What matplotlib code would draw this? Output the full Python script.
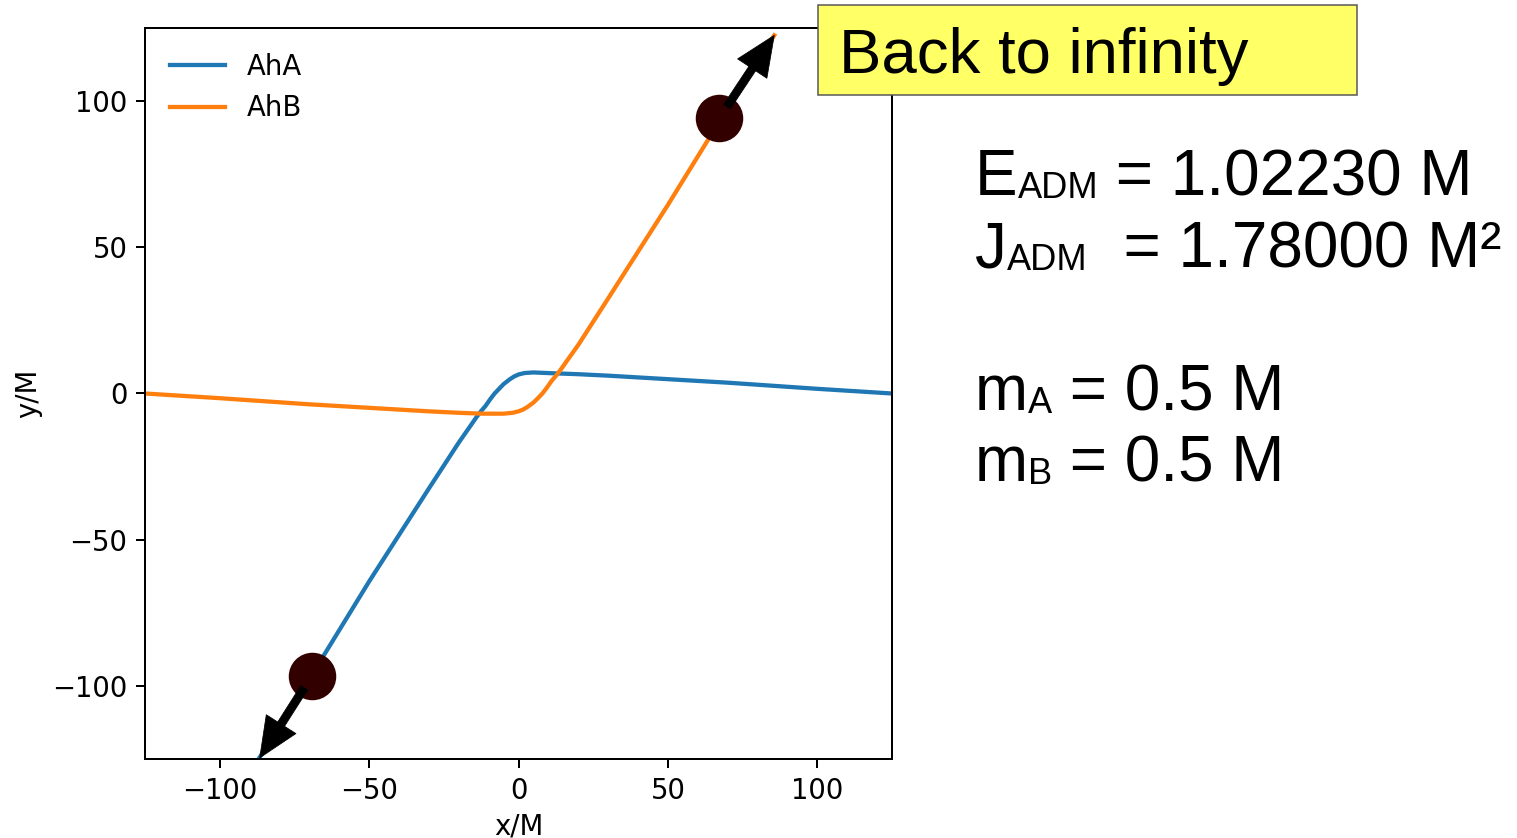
import matplotlib
matplotlib.use("Agg")
import matplotlib.pyplot as plt
from matplotlib.patches import Rectangle

W, H, DPI = 1517, 838, 180

plt.rcParams["font.size"] = 11
plt.rcParams["lines.linewidth"] = 1.7

# trajectories of the two horizons
aha_x = [125, 100, 70, 50, 30, 20, 12, 5, 2, 0, -1.5, -3, -5, -6.5, -8, -9.5,
         -11, -12.5, -14, -20, -30, -50, -69.2, -86.6]
aha_y = [0, 1.6, 3.7, 4.9, 6.1, 6.6, 6.9, 7.2, 7.0, 6.5, 5.8, 4.8, 3.2, 1.6, 0.0,
         -2.0, -4.2, -6.0, -8.0, -16.8, -32.5, -64.3, -96.3, -124.4]
ahb_x = [-125, -100, -70, -50, -30, -20, -12, -5, -2, 0, 1.5, 3, 5, 6.5, 8, 9.5,
         11, 12.5, 14, 20, 30, 50, 67.2, 85.6]
ahb_y = [0, -1.6, -3.7, -4.9, -6.1, -6.6, -6.9, -6.9, -6.6, -6.1, -5.5, -4.6, -3.1,
         -1.6, 0.0, 2.0, 4.2, 6.0, 8.0, 16.6, 32.5, 64.5, 93.0, 122.5]

# final positions of the holes and where they head off to
dot_x = [-69.2, 67.2]
dot_y = [-96.6, 94.1]
tip_x = [-86.6, 85.6]
tip_y = [-124.6, 122.5]

ticks = [-100, -50, 0, 50, 100]

fig = plt.figure(figsize=(W / DPI, H / DPI), dpi=DPI)
ax = fig.add_axes([145 / W, 1 - 759 / H, (892 - 145) / W, (759 - 28) / H])

ax.plot(aha_x, aha_y, label="AhA", color="tab:blue", zorder=2)
ax.plot(ahb_x, ahb_y, label="AhB", color="tab:orange", zorder=2)
ax.plot(dot_x, dot_y, "o", ms=18, color="#330000", zorder=4)

for x0, y0, x1, y1 in zip(dot_x, dot_y, tip_x, tip_y):
    ax.annotate("", xy=(x1, y1), xytext=(x0, y0), annotation_clip=False, zorder=5,
                arrowprops=dict(arrowstyle="simple,head_length=1.33,head_width=1.17,tail_width=0.27",
                                mutation_scale=12, color="k", lw=0.3, shrinkA=5.6, shrinkB=0))

ax.set_xlim(-125, 125)
ax.set_ylim(-125, 125)
ax.set_xticks(ticks)
ax.set_yticks(ticks)
ax.set_xlabel("x/M", labelpad=3)
ax.set_ylabel("y/M")
ax.legend(loc="upper left", frameon=False, handlelength=2.0)

# yellow banner
fig.add_artist(Rectangle((818 / W, 1 - 95 / H), (1357 - 818) / W, 90 / H,
                         transform=fig.transFigure, facecolor="#ffff66",
                         edgecolor="#555555", lw=0.6, zorder=6))
fig.text(839 / W, 1 - 73 / H, "Back to infinity", family="Liberation Sans",
         fontsize=25.4, va="baseline", zorder=7)

# ADM quantities and masses, each line built from pieces of normal / subscript text
BIG, SMALL = 25.5, 14.5
lines = [
    (195, [("E", BIG, 0), ("ADM", SMALL, 1), (" = 1.02230 M", BIG, -1)]),
    (267, [("J", BIG, 0), ("ADM", SMALL, 1), ("  = 1.78000 M²", BIG, -1)]),
    (410, [("m", BIG, 0), ("A", SMALL, 1), (" = 0.5 M", BIG, -1)]),
    (481, [("m", BIG, 0), ("B", SMALL, 1), (" = 0.5 M", BIG, -1)]),
]
for base, parts in lines:
    s, size, _ = parts[0]
    prev = fig.text(975 / W, 1 - base / H, s, family="Liberation Sans",
                    fontsize=size, va="baseline")
    for s, size, dy in parts[1:]:
        prev = ax.annotate(s, xy=(1, 0), xycoords=prev, xytext=(0, dy),
                           textcoords="offset points", va="bottom", ha="left",
                           family="Liberation Sans", fontsize=size,
                           annotation_clip=False)

fig.savefig("out.png", dpi=DPI)
